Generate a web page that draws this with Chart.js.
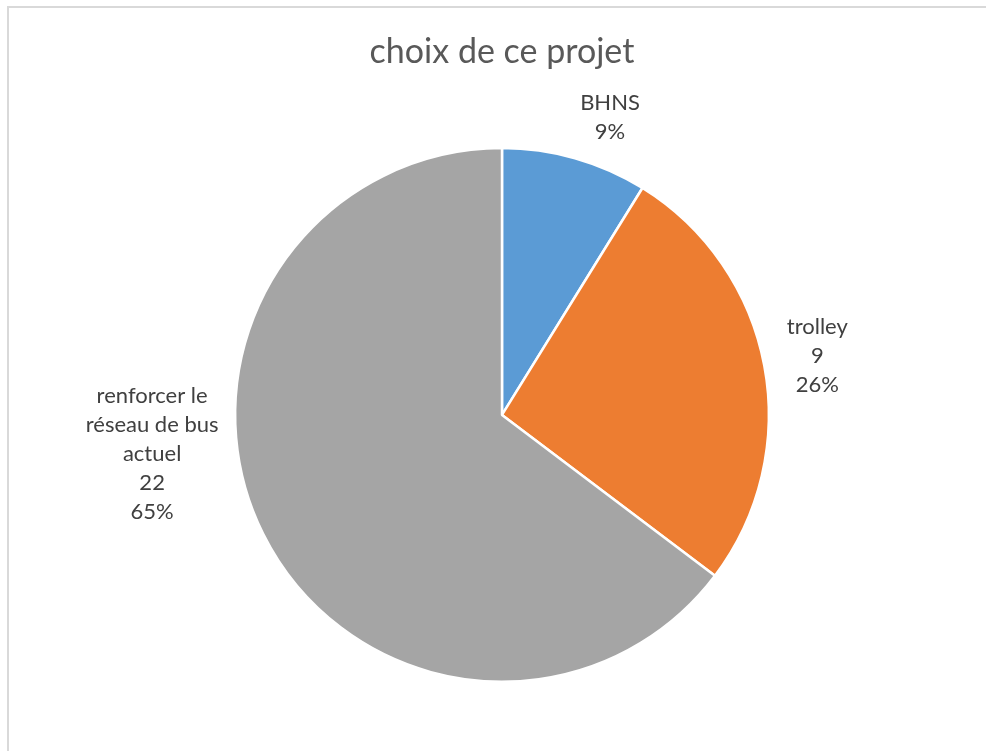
<!DOCTYPE html>
<html>
<head>
<meta charset="utf-8">
<script src="https://cdn.jsdelivr.net/npm/chart.js@4"></script>
<style>
  html, body { margin: 0; padding: 0; background: #fff; }
  #wrap { width: 986px; height: 751px; }
</style>
</head>
<body>
<div id="wrap"><canvas id="chart" width="986" height="751"></canvas></div>
<script>
const categories = ["BHNS", "trolley", "renforcer le réseau de bus actuel"];
const counts = [3, 9, 22];
const sliceColors = ["#5B9BD5", "#ED7D31", "#A5A5A5"];

// text lines of each data label (Excel shows no value for BHNS)
const labelLines = [
  ["BHNS", "9%"],
  ["trolley", "9", "26%"],
  ["renforcer le", "réseau de bus", "actuel", "22", "65%"],
];

// nudge of each label box from the middle of its arc edge
const labelNudge = [[35, -41], [53, -10], [-111, -80]];

const framePlugin = {
  id: "frame",
  beforeDraw(chart) {
    const ctx = chart.ctx;
    ctx.save();
    ctx.strokeStyle = "#D9D9D9";
    ctx.lineWidth = 2;
    ctx.strokeRect(8, 7, chart.width + 20, chart.height + 20);
    ctx.restore();
  },
};

const labelPlugin = {
  id: "pieLabels",
  afterDatasetsDraw(chart) {
    const ctx = chart.ctx;
    const meta = chart.getDatasetMeta(0);
    ctx.save();
    ctx.font = "22px Lato, 'Open Sans', sans-serif";
    ctx.fillStyle = "#404040";
    ctx.textAlign = "center";
    ctx.textBaseline = "middle";
    meta.data.forEach((arc, i) => {
      const p = arc.getProps(["x", "y", "startAngle", "endAngle", "outerRadius"], true);
      const mid = (p.startAngle + p.endAngle) / 2;
      const cx = p.x + Math.cos(mid) * p.outerRadius + labelNudge[i][0];
      const cy = p.y + Math.sin(mid) * p.outerRadius + labelNudge[i][1];
      const lines = labelLines[i];
      const lh = 29;
      const top = cy - (lines.length - 1) * lh / 2;
      lines.forEach((t, k) => ctx.fillText(t, cx, top + k * lh));
    });
    ctx.restore();
  },
};

new Chart(document.getElementById("chart"), {
  type: "pie",
  data: {
    labels: categories,
    datasets: [{
      data: counts,
      backgroundColor: sliceColors,
      borderColor: "#FFFFFF",
      borderWidth: 2.5,
    }],
  },
  options: {
    responsive: false,
    animation: false,
    layout: { padding: { left: 18, right: 0, top: 0, bottom: 68 } },
    plugins: {
      legend: { display: false },
      tooltip: { enabled: false },
      title: {
        display: true,
        text: "choix de ce projet",
        color: "#595959",
        font: { family: "Lato, 'Open Sans', sans-serif", size: 34, weight: "normal" },
        padding: { top: 32, bottom: 74 },
      },
    },
  },
  plugins: [framePlugin, labelPlugin],
});
</script>
</body>
</html>
